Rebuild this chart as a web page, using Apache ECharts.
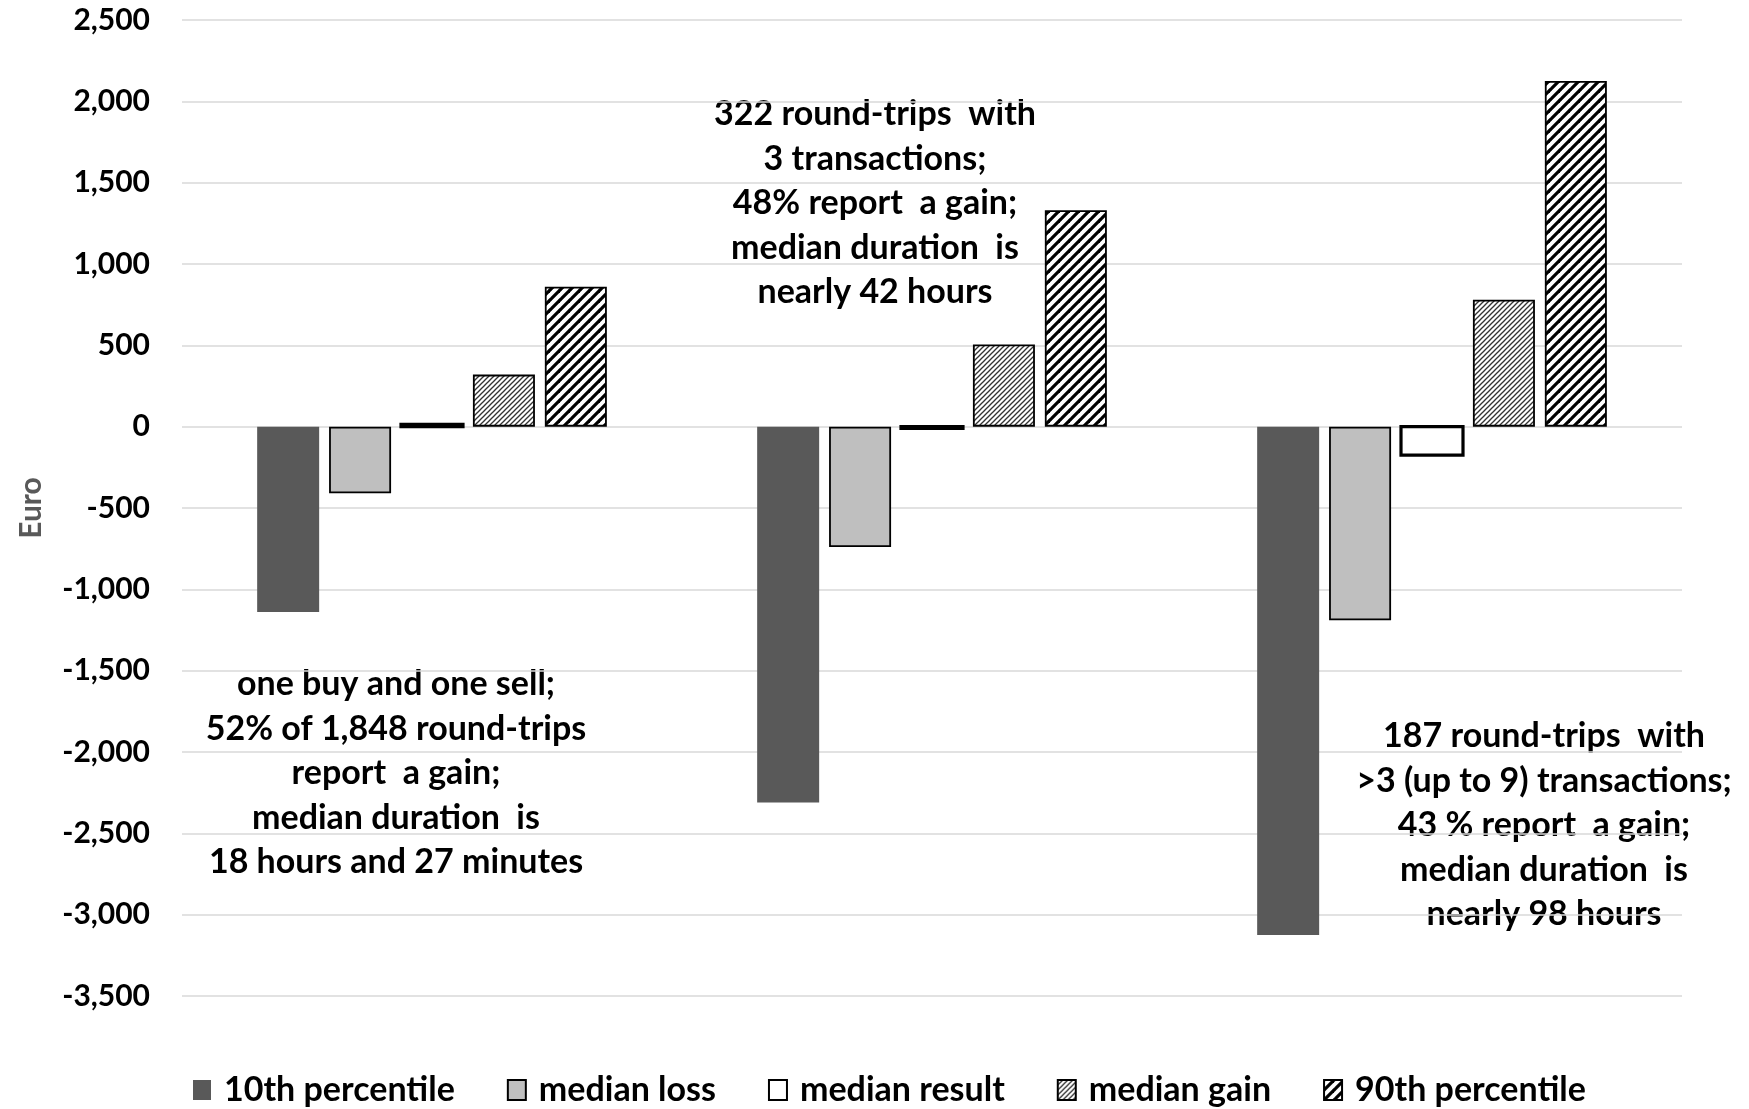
<!DOCTYPE html>
<html>
<head>
<meta charset="utf-8">
<script src="https://cdn.jsdelivr.net/npm/echarts@6/dist/echarts.min.js"></script>
<style>
  html, body { margin: 0; padding: 0; background: #fff; }
  #chart { width: 1749px; height: 1109px; }
</style>
</head>
<body>
<div id="chart"></div>
<script>
// Round-trip groups (by number of transactions)
const categories = ['one buy and one sell', '3 transactions', '>3 transactions'];
// Euro values per group
const p10 = [-1140, -2310, -3125];
const medianLoss = [-410, -740, -1190];
const medianResult = [15, -10, -175];
const medianGain = [320, 505, 780];
const p90 = [860, 1330, 2125];
const seriesNames = ['10th percentile', 'median loss', 'median result', 'median gain', '90th percentile'];

// Annotation blocks for each group
const notes = [
  'one buy and one sell;\n52% of 1,848 round-trips\nreport  a gain;\nmedian duration  is\n18 hours and 27 minutes',
  '322 round-trips  with\n3 transactions;\n48% report  a gain;\nmedian duration  is\nnearly 42 hours',
  '187 round-trips  with\n>3 (up to 9) transactions;\n43 % report  a gain;\nmedian duration  is\nnearly 98 hours'
];

// Diagonal "/" hatch tile
function hatch(period, lineWidth, color) {
  const c = document.createElement('canvas');
  c.width = period; c.height = period;
  const g = c.getContext('2d');
  g.fillStyle = '#fff';
  g.fillRect(0, 0, period, period);
  g.strokeStyle = color;
  g.lineWidth = lineWidth;
  for (const k of [-period, 0, period]) {
    g.beginPath();
    g.moveTo(k - 1, period + 1);
    g.lineTo(k + period + 1, -1);
    g.stroke();
  }
  return { image: c, repeat: 'repeat' };
}

const fineHatch = hatch(5, 1.3, '#333');
const wideHatch = hatch(10, 3.2, '#000');

const chart = echarts.init(document.getElementById('chart'), null, { renderer: 'canvas' });

const BAR_W = 62;
const barCommon = { type: 'bar', barWidth: BAR_W, barGap: '16%' };
const FONT = 'Lato, "Noto Sans", sans-serif';

chart.setOption({
  backgroundColor: '#fff',
  animation: false,
  grid: { left: 182, right: 67, top: 20, bottom: 113, containLabel: false },
  xAxis: {
    type: 'category',
    data: categories,
    axisLine: { show: false },
    axisTick: { show: false },
    axisLabel: { show: false },
    splitLine: { show: false }
  },
  yAxis: {
    type: 'value',
    min: -3500,
    max: 2500,
    interval: 500,
    name: 'Euro',
    nameLocation: 'middle',
    nameGap: 136,
    nameRotate: 90,
    nameTextStyle: { fontFamily: FONT, fontWeight: 'bold', fontSize: 30, color: '#595959' },
    axisLine: { show: false },
    axisTick: { show: false },
    axisLabel: {
      margin: 32,
      fontFamily: FONT,
      fontWeight: 'bold',
      fontSize: 30,
      color: '#000',
      formatter: v => v.toLocaleString('en-US')
    },
    splitLine: { lineStyle: { color: '#d9d9d9', width: 1.5 } }
  },
  legend: {
    data: seriesNames,
    left: 188,
    top: 1068,
    icon: 'rect',
    itemWidth: 18,
    itemHeight: 20,
    itemGap: 52,
    textStyle: { fontFamily: FONT, fontWeight: 'bold', fontSize: 34, color: '#000', padding: [0, 0, 0, 8] }
  },
  series: [
    Object.assign({}, barCommon, {
      name: seriesNames[0], data: p10,
      itemStyle: { color: '#595959', borderWidth: 0 }
    }),
    Object.assign({}, barCommon, {
      name: seriesNames[1], data: medianLoss,
      itemStyle: { color: '#bfbfbf', borderColor: '#000', borderWidth: 1.8 }
    }),
    Object.assign({}, barCommon, {
      name: seriesNames[2], data: medianResult,
      itemStyle: { color: '#fff', borderColor: '#000', borderWidth: 2.6 }
    }),
    Object.assign({}, barCommon, {
      name: seriesNames[3], data: medianGain,
      itemStyle: { color: fineHatch, borderColor: '#000', borderWidth: 1.8 }
    }),
    Object.assign({}, barCommon, {
      name: seriesNames[4], data: p90,
      itemStyle: { color: wideHatch, borderColor: '#000', borderWidth: 1.8 }
    }),
    // Outline for the middle (median result) bar, so that very short bars keep a full-width stroke
    {
      type: 'custom',
      name: 'median result outline',
      silent: true,
      z: 3,
      data: medianResult.map((v, i) => [i, v]),
      renderItem: function (params, api) {
        const base = api.coord([api.value(0), 0]);
        const top = api.coord([api.value(0), api.value(1)]);
        return {
          type: 'rect',
          shape: { x: base[0] - BAR_W / 2, y: Math.min(base[1], top[1]), width: BAR_W, height: Math.abs(top[1] - base[1]) },
          style: { fill: '#fff', stroke: '#000', lineWidth: 3.2 }
        };
      }
    }
  ],
  graphic: [
    { type: 'text', x: 396, y: 662, style: { text: notes[0], align: 'center', fontFamily: FONT, fontWeight: 'bold', fontSize: 34, lineHeight: 44.5, fill: '#000' } },
    { type: 'text', x: 875, y: 92, style: { text: notes[1], align: 'center', fontFamily: FONT, fontWeight: 'bold', fontSize: 34, lineHeight: 44.5, fill: '#000' } },
    { type: 'text', x: 1544, y: 714, style: { text: notes[2], align: 'center', fontFamily: FONT, fontWeight: 'bold', fontSize: 34, lineHeight: 44.5, fill: '#000' } }
  ]
});
</script>
</body>
</html>
